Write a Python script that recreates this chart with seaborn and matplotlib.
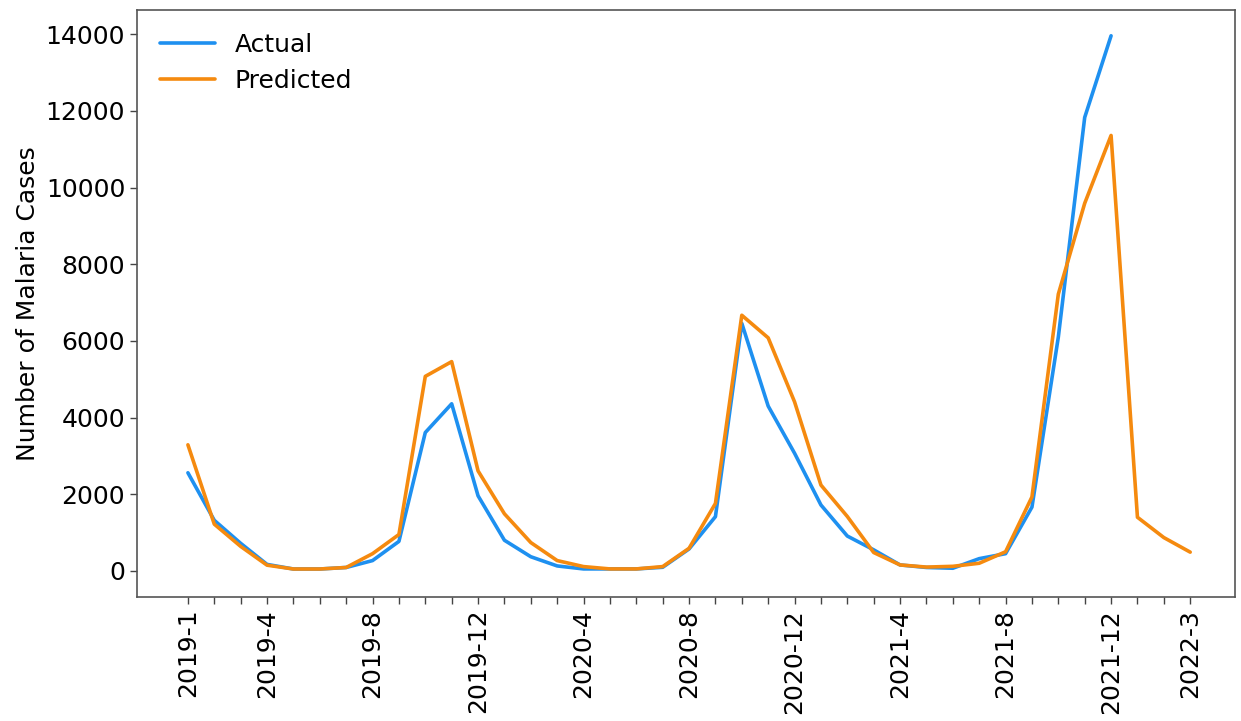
import matplotlib
matplotlib.use("Agg")
import matplotlib.pyplot as plt
import seaborn as sns
import pandas as pd
import numpy as np

months = [f"{y}-{m}" for y in (2019, 2020, 2021) for m in range(1, 13)] + ["2022-1", "2022-2", "2022-3"]

actual = [2560, 1320, 720, 170, 50, 50, 90, 270, 770, 3610, 4360, 1960, 800, 370,
          130, 52, 52, 52, 95, 573, 1416, 6457, 4300, 3070, 1720, 910, 550, 156,
          90, 70, 320, 450, 1665, 6100, 11830, 13960]
predicted = [3290, 1220, 640, 150, 50, 50, 90, 450, 950, 5075, 5460, 2610, 1490, 740,
             270, 113, 52, 52, 113, 590, 1760, 6670, 6080, 4410, 2240, 1420, 480, 156,
             100, 120, 200, 500, 1930, 7220, 9590, 11360, 1400, 870, 490]

tick_labels = ["2019-1", "2019-4", "2019-8", "2019-12", "2020-4", "2020-8",
               "2020-12", "2021-4", "2021-8", "2021-12", "2022-3"]

df = pd.concat([
    pd.DataFrame({"idx": range(len(actual)), "month": months[:len(actual)],
                  "cases": actual, "series": "Actual"}),
    pd.DataFrame({"idx": range(len(predicted)), "month": months[:len(predicted)],
                  "cases": predicted, "series": "Predicted"}),
])

sns.set_style("ticks")
plt.rcParams['font.family'] = ['DejaVu Sans']
plt.rcParams['text.color'] = 'black'
plt.rcParams['axes.labelcolor'] = 'black'
plt.rcParams['xtick.color'] = 'black'
plt.rcParams['ytick.color'] = 'black'

fig = plt.figure(figsize=(12.41, 7.21), dpi=100)
ax = fig.add_axes([0.1104, 0.172, 0.8848, 0.814])

sns.lineplot(data=df, x="idx", y="cases", hue="series",
             palette={"Actual": "#1e90f0", "Predicted": "#f58a0f"},
             linewidth=2.6, ax=ax)

ax.set_xticks(range(len(months)))
ax.set_xticklabels([m if m in tick_labels else "" for m in months], rotation=90, fontsize=18)
ax.tick_params(axis="y", labelsize=18)
ax.tick_params(axis="both", length=5, width=1, color="#444444", labelcolor="black")
ax.set_xlim(-1.93, 39.7)
ax.set_ylim(-680, 14630)
ax.set_yticks(range(0, 14001, 2000))
ax.set_xlabel("")
ax.set_ylabel("Number of Malaria Cases", fontsize=18, color="black")
for s in ax.spines.values():
    s.set_color("#555555")
    s.set_linewidth(1.2)

leg = ax.legend(loc="upper left", frameon=False, fontsize=18, handlelength=2.2)
for t in leg.get_texts():
    t.set_color("black")

fig.savefig("out.png", dpi=100)
